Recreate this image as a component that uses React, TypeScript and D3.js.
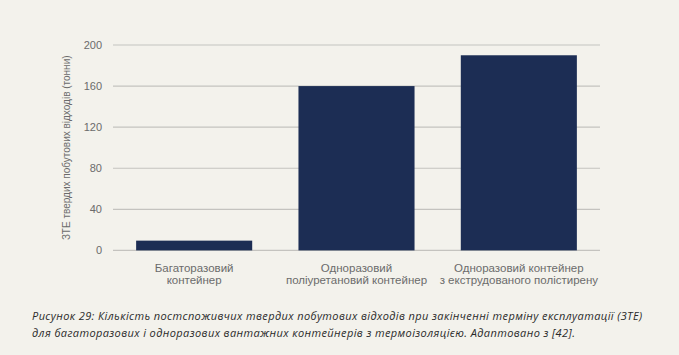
import React from "react";
import * as d3 from "d3";

const categories: string[][] = [
  ["Багаторазовий", "контейнер"],
  ["Одноразовий", "поліуретановий контейнер"],
  ["Одноразовий контейнер", "з екструдованого полістирену"],
];
const values: number[] = [9.5, 160, 190];
const yTicks: number[] = [0, 40, 80, 120, 160, 200];
const yTitle = "ЗТЕ твердих побутових відходів (тонни)";
const captionLines: string[] = [
  "Рисунок 29: Кількість постспоживчих твердих побутових відходів при закінченні терміну експлуатації (ЗТЕ)",
  "для багаторазових і одноразових вантажних контейнерів з термоізоляцією. Адаптовано з [42].",
];

const W = 679;
const H = 355;
const left = 113;
const right = 600;
const top = 45;
const bottom = 250.4;

export default function App() {
  const keys = categories.map((c) => c.join(" "));
  const x = d3
    .scaleBand<string>()
    .domain(keys)
    .range([left, right])
    .paddingInner(0.285)
    .paddingOuter(0.1425);
  const y = d3.scaleLinear().domain([0, 200]).range([bottom, top]);
  const font = "Liberation Sans, Arial, sans-serif";
  return (
    <svg
      width={W}
      height={H}
      style={{ position: "absolute", left: 0, top: 0, background: "#f3f2ec" }}
    >
      <rect x={0} y={0} width={W} height={H} fill="#f3f2ec" />
      {yTicks.map((t) => (
        <g key={t}>
          <line x1={left} x2={right} y1={y(t)} y2={y(t)} stroke="#c4c3bf" strokeWidth={1.2} />
          <text
            x={102}
            y={y(t)}
            dy="0.35em"
            textAnchor="end"
            fontFamily={font}
            fontSize={11}
            fill="#6b6b6b"
          >
            {t}
          </text>
        </g>
      ))}
      {values.map((v, i) => (
        <rect
          key={i}
          x={x(keys[i])}
          y={y(v)}
          width={x.bandwidth()}
          height={y(0) - y(v)}
          fill="#1c2d54"
        />
      ))}
      {categories.map((c, i) => (
        <text
          key={i}
          textAnchor="middle"
          fontFamily={font}
          fontSize={11.5}
          fill="#6b6b6b"
        >
          {c.map((line, j) => (
            <tspan key={j} x={(x(keys[i]) as number) + x.bandwidth() / 2} y={271.5 + j * 12.5}>
              {line}
            </tspan>
          ))}
        </text>
      ))}
      <text
        transform={`translate(70,${(top + bottom) / 2}) rotate(-90)`}
        textAnchor="middle"
        fontFamily={font}
        fontSize={10}
        fill="#6b6b6b"
      >
        {yTitle}
      </text>
      {captionLines.map((l, i) => (
        <text
          key={i}
          x={32}
          y={320 + i * 17}
          fontFamily="Open Sans, sans-serif"
          fontStyle="italic"
          fontSize={11}
          letterSpacing={0.4}
          fill="#2a2a2a"
        >
          {l}
        </text>
      ))}
    </svg>
  );
}
